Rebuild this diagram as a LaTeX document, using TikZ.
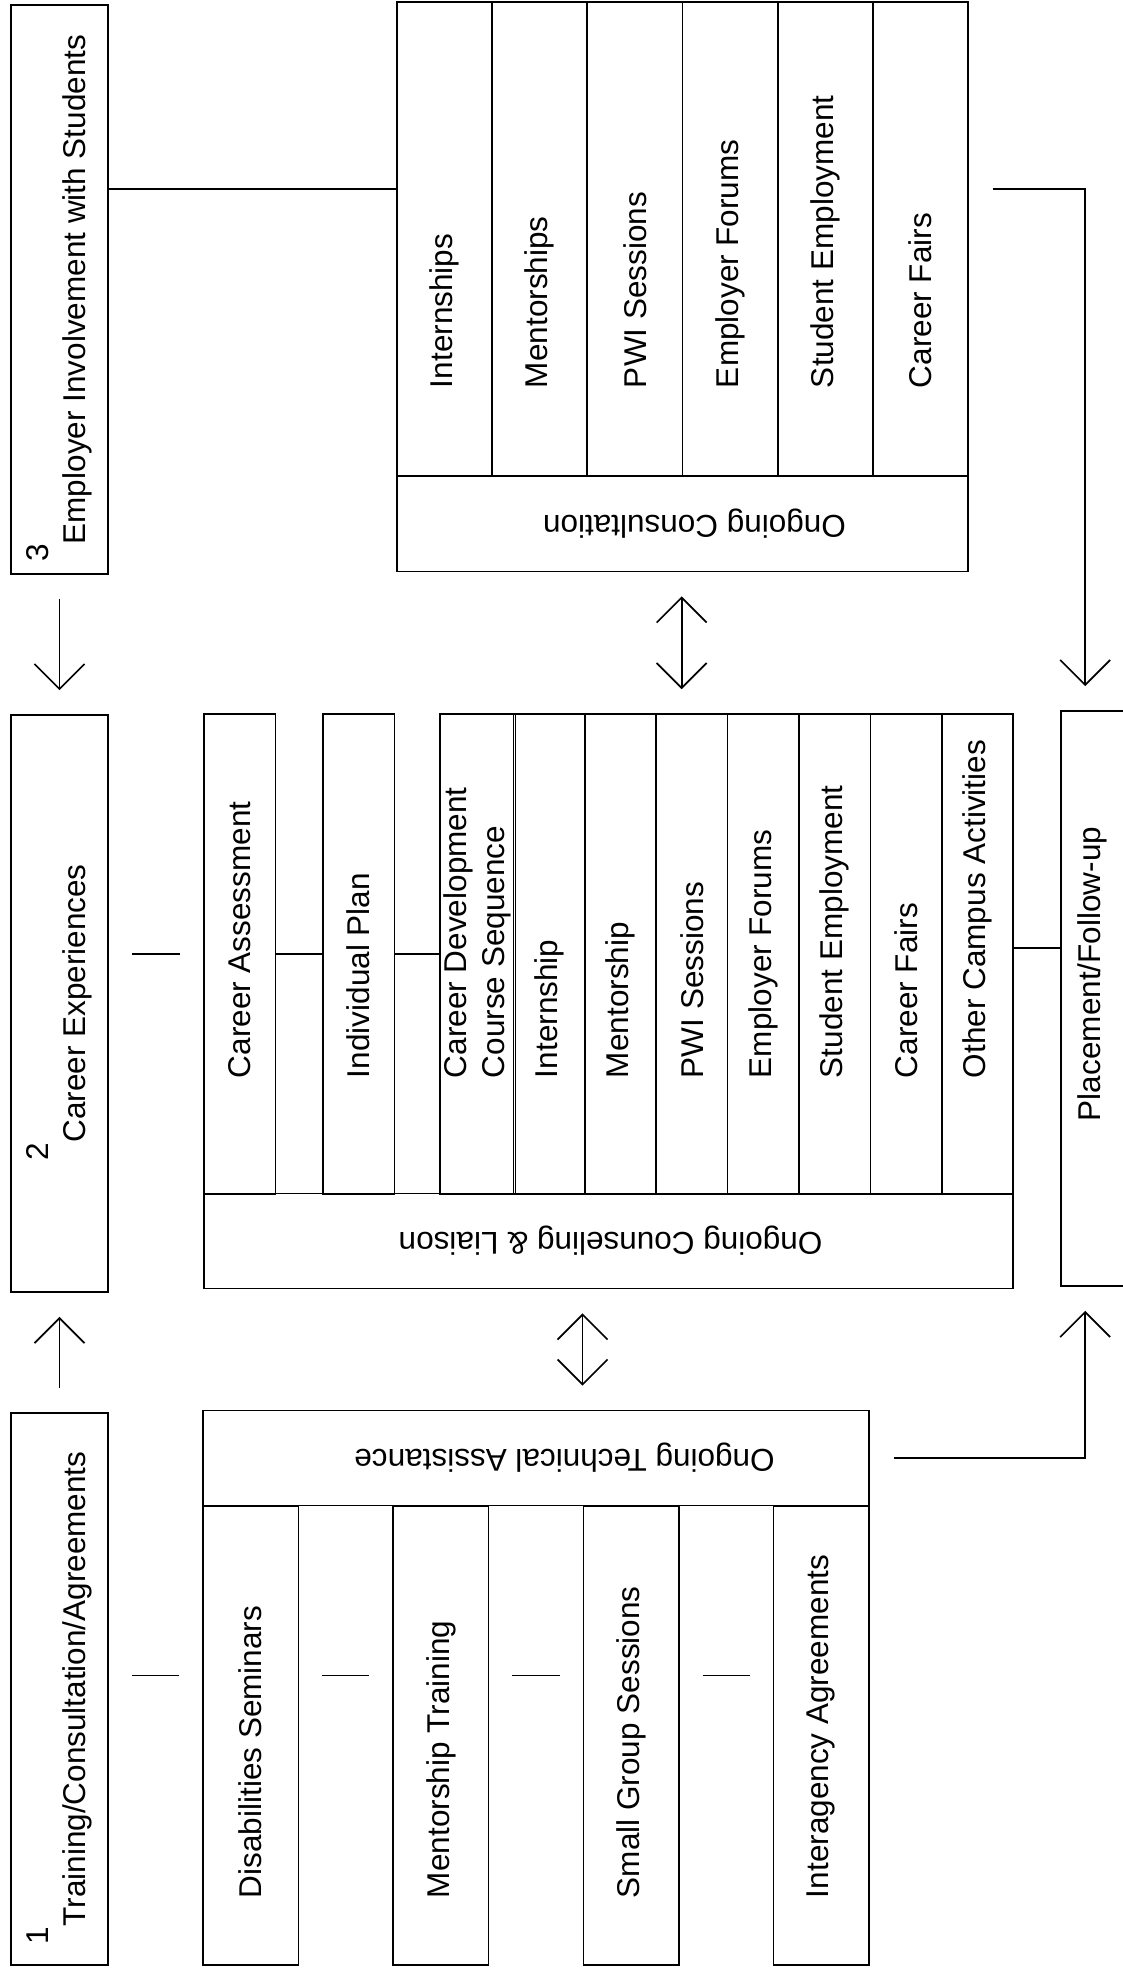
\documentclass[tikz,border=0pt]{standalone}
\usepackage{fontspec}
\setmainfont{Liberation Sans}
\usepackage{graphicx}
\usetikzlibrary{arrows.meta}

\newcommand{\vlabel}[2]{\rotatebox{90}{\makebox[#1][l]{#2}}}
\newcommand{\flip}[2]{\rotatebox{180}{#2\hspace{#1}}}

\begin{document}
\begin{tikzpicture}[x=1pt, y=-1pt,
        every node/.style={draw, line width=1.7pt, inner sep=0pt, font=\fontsize{31.5}{37.8}\selectfont},
        stage/.style={minimum width=97pt},
        topcol/.style={minimum width=95.2pt, minimum height=474pt},
        midcol/.style={minimum width=71.4pt, minimum height=480pt},
        lowcol/.style={minimum width=95.4pt, minimum height=459pt},
        band/.style={minimum height=95pt},
        flow/.style={line width=1.7pt},
        stub/.style={flow, shorten <=23pt, shorten >=23pt},
        arrow/.style={->, flow, shorten <=24pt, shorten >=24pt},
        twoway/.style={<->, flow, shorten <=24pt, shorten >=24pt},
        >={Straight Barb[length=25pt, width=50pt]}
    ]
    \useasboundingbox (0,0) rectangle (1122,1968);

    \node[stage, minimum height=569pt] (employer) at (59.5,289.5) {\rotatebox{90}{\llap{\raisebox{1.17em}{3}}Employer Involvement with Students}};
    \node[topcol] (internships) at (444.6,239) {\vlabel{298pt}{Internships}};
    \node[topcol] (mentorships) at (539.8,239) {\vlabel{298pt}{Mentorships}};
    \node[topcol] (pwitop) at (634.9,239) {\vlabel{298pt}{PWI Sessions}};
    \node[topcol] (forumstop) at (730.1,239) {\vlabel{298pt}{Employer Forums}};
    \node[topcol] (jobstop) at (825.3,239) {\vlabel{298pt}{Student Employment}};
    \node[topcol] (fairstop) at (920.4,239) {\vlabel{298pt}{Career Fairs}};
    \node[band, minimum width=571pt] (consult) at (682.5,524) {\flip{24pt}{Ongoing Consultation}};

    \node[stage, minimum height=577pt] (experiences) at (59.5,1003.5) {\rotatebox{90}{\llap{\raisebox{1.17em}{2}}Career Experiences}};
    \node[midcol] (assess) at (239.7,954) {\vlabel{248pt}{Career Assessment}};
    \node[midcol] (plan) at (358.7,954) {\vlabel{248pt}{Individual Plan}};
    \node[midcol] (course) at (477.7,954) {\vlabel{248pt}{\begin{tabular}{@{}l@{}}Career Development\\Course Sequence\end{tabular}}};
    \node[midcol] (internship) at (549.1,954) {\vlabel{248pt}{Internship}};
    \node[midcol] (mentorship) at (620.5,954) {\vlabel{248pt}{Mentorship}};
    \node[midcol] (pwi) at (691.9,954) {\vlabel{248pt}{PWI Sessions}};
    \node[midcol] (forums) at (763.3,954) {\vlabel{248pt}{Employer Forums}};
    \node[midcol] (jobs) at (834.7,954) {\vlabel{248pt}{Student Employment}};
    \node[midcol] (fairs) at (906.1,954) {\vlabel{248pt}{Career Fairs}};
    \node[midcol] (campus) at (977.5,954) {\vlabel{248pt}{Other Campus Activities}};
    \node[band, minimum width=809pt] (counsel) at (608.5,1241) {\flip{4pt}{Ongoing Counseling \& Liaison}};
    \node[minimum width=63pt, minimum height=575pt] (placement) at (1092.5,998.5) {\vlabel{245pt}{Placement/Follow-up}};

    \node[stage, minimum height=552pt] (training) at (59.5,1689) {\rotatebox{90}{\llap{\raisebox{1.17em}{1}}Training/Consultation/Agreements}};
    \node[band, minimum width=666pt] (technical) at (536,1458) {\flip{57pt}{Ongoing Technical Assistance}};
    \node[lowcol] (seminars) at (250.7,1735.5) {\vlabel{325pt}{Disabilities Seminars}};
    \node[lowcol] (mtraining) at (440.9,1735.5) {\vlabel{325pt}{Mentorship Training}};
    \node[lowcol] (groups) at (631.1,1735.5) {\vlabel{325pt}{Small Group Sessions}};
    \node[lowcol] (interagency) at (821.3,1735.5) {\vlabel{325pt}{Interagency Agreements}};

    \draw [flow] ([yshift=50pt]internships.west) -- ([yshift=50pt]internships.west -| employer.east);
    \draw [arrow] (employer) -- (experiences);
    \draw [arrow] (training) -- (experiences);
    \draw [twoway] (consult.south -| forumstop.west) -- (pwi.north -| forumstop.west);
    \draw [twoway] (counsel.south -| groups.west) -- (technical.north -| groups.west);
    \draw [arrow] ([yshift=50pt]fairstop.east) -| ([xshift=25pt]placement.north west);
    \draw [arrow] (technical.east) -| ([xshift=25pt]placement.south west);

    \draw [stub] (assess.west -| experiences.east) -- (assess.west);
    \draw [flow] (assess) -- (plan);
    \draw [flow] (plan) -- (course);
    \draw [flow] ([yshift=6pt]campus.east) -- ([yshift=6pt]campus.east -| placement.west);

    \draw [stub] ([yshift=60pt]seminars.west -| training.east) -- ([yshift=60pt]seminars.west);
    \draw [stub] ([yshift=60pt]seminars.east) -- ([yshift=60pt]mtraining.west);
    \draw [stub] ([yshift=60pt]mtraining.east) -- ([yshift=60pt]groups.west);
    \draw [stub] ([yshift=60pt]groups.east) -- ([yshift=60pt]interagency.west);
\end{tikzpicture}
\end{document}
